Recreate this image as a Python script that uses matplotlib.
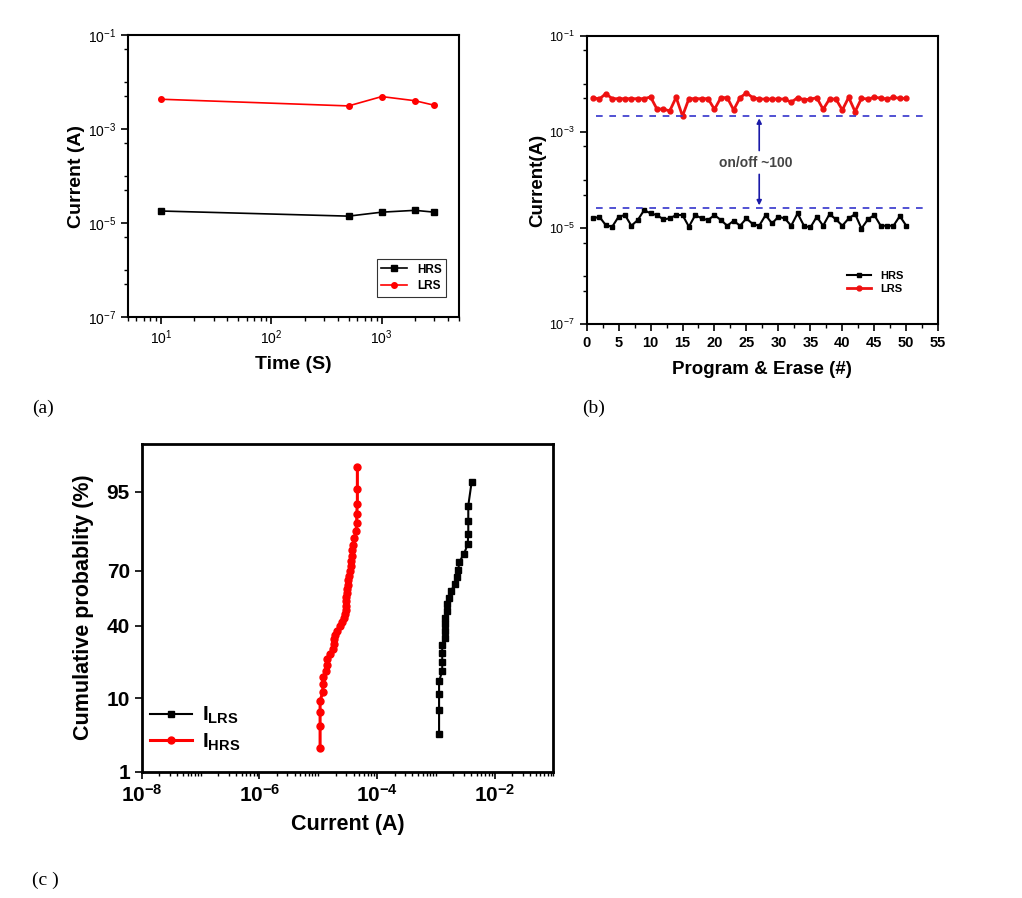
import numpy as np
import matplotlib
matplotlib.use('Agg')
import matplotlib.pyplot as plt
from matplotlib.ticker import LogLocator, FixedLocator, MultipleLocator, NullFormatter, FuncFormatter
from statistics import NormalDist

plt.rcParams['font.family'] = ['Liberation Sans', 'DejaVu Sans']
plt.rcParams['mathtext.fontset'] = 'custom'
plt.rcParams['mathtext.rm'] = 'Liberation Sans'
plt.rcParams['mathtext.it'] = 'Liberation Sans:italic'
plt.rcParams['mathtext.bf'] = 'Liberation Sans:bold'
plt.rcParams['mathtext.default'] = 'regular'

# (a) retencion
tiempo = [10, 500, 1000, 2000, 3000]
hrs_ret = [1.8e-5, 1.4e-5, 1.7e-5, 1.86e-5, 1.7e-5]
lrs_ret = [4.3e-3, 3.1e-3, 4.9e-3, 4.0e-3, 3.2e-3]

# (b) ciclos
ciclos = np.arange(1, 51)
lrs_cic = np.array([5.19, 4.86, 6.3, 4.94, 4.94, 4.94, 4.94, 4.94, 4.94, 5.36,
                    3.01, 3.01, 2.74, 5.27, 2.15, 4.94, 4.94, 4.94, 4.94, 2.96,
                    5.19, 5.19, 2.87, 5.19, 6.5, 5.19, 4.86, 4.86, 4.86, 4.86,
                    4.86, 4.15, 5.19, 4.72, 4.8, 5.19, 2.96, 4.86, 4.86, 2.87,
                    5.27, 2.65, 5.02, 4.86, 5.27, 5.1, 4.86, 5.27, 5.02, 5.02]) * 1e-3
hrs_cic = np.array([1.59, 1.72, 1.15, 1.07, 1.72, 1.87, 1.12, 1.47, 2.37, 2.02,
                    1.87, 1.52, 1.59, 1.87, 1.87, 1.07, 1.87, 1.59, 1.47, 1.87,
                    1.47, 1.12, 1.42, 1.12, 1.59, 1.21, 1.12, 1.87, 1.25, 1.72,
                    1.59, 1.12, 2.02, 1.12, 1.03, 1.72, 1.12, 1.96, 1.52, 1.12,
                    1.59, 1.96, 0.98, 1.52, 1.87, 1.12, 1.12, 1.12, 1.78, 1.12]) * 1e-5
nivel_on = 2.2e-3
nivel_off = 2.6e-5

# (c) distribucion acumulada
i_lrs = np.array([1.14, 1.14, 1.14, 1.14, 1.29, 1.29, 1.29, 1.29, 1.44, 1.44,
                  1.44, 1.44, 1.57, 1.57, 1.70, 1.80, 2.13, 2.27, 2.42, 2.52,
                  3.03, 3.50, 3.58, 3.58, 3.58, 4.09]) * 1e-3
p_lrs = [3.7, 7.4, 11.1, 14.8, 18.5, 22.2, 25.9, 29.6, 33.3, 37.0, 40.7, 44.4, 48.1,
         51.9, 55.6, 59.3, 63.0, 66.7, 70.4, 74.1, 77.8, 81.5, 85.2, 88.9, 92.6, 96.3]
i_hrs = np.array([1.08, 1.08, 1.08, 1.08, 1.20, 1.20, 1.23, 1.35, 1.40, 1.44,
                  1.59, 1.77, 1.89, 1.89, 1.94, 2.07, 2.36, 2.52, 2.76, 2.87,
                  2.94, 2.94, 2.98, 2.98, 3.06, 3.14, 3.22, 3.27, 3.36, 3.49,
                  3.58, 3.67, 3.72, 3.82, 3.97, 4.13, 4.41, 4.53, 4.53, 4.65,
                  4.65, 4.65]) * 1e-5
p_hrs = [2.3, 4.7, 7.0, 9.3, 11.6, 14.0, 16.3, 18.6, 20.9, 23.3, 25.6, 27.9, 30.2, 32.6,
         34.9, 37.2, 39.5, 41.9, 44.2, 46.5, 48.8, 51.2, 53.5, 55.8, 58.1, 60.5, 62.8,
         65.1, 67.4, 69.8, 72.1, 74.4, 76.7, 79.1, 81.4, 83.7, 86.0, 88.4, 90.7, 93.0,
         95.3, 97.7]

_nd = NormalDist()
_ppf = np.vectorize(lambda v: _nd.inv_cdf(v / 100.0), otypes=[float])
_cdf = np.vectorize(lambda v: _nd.cdf(v) * 100.0, otypes=[float])


def prob_fwd(p):
    return _ppf(np.clip(np.asarray(p, float), 1e-6, 100 - 1e-6))


def prob_inv(z):
    return _cdf(np.asarray(z, float))


def exp_label(v, pos):
    return r'$10^{%d}$' % round(np.log10(v))


def estilo(ax, lw=1.5):
    for s in ax.spines.values():
        s.set_linewidth(lw)
    ax.tick_params(which='both', direction='out', top=False, right=False)
    ax.tick_params(which='major', length=5, width=1.2)
    ax.tick_params(which='minor', length=3, width=1.0)


fig = plt.figure(figsize=(10.22, 8.98), dpi=100)

# ---- (a)
ax1 = fig.add_axes([0.125, 0.647, 0.324, 0.314])
ax1.plot(tiempo, hrs_ret, color='black', marker='s', ms=4, lw=1.2, label='HRS')
ax1.plot(tiempo, lrs_ret, color='#ff0000', marker='o', ms=4, lw=1.2, label='LRS')
ax1.set_xscale('log')
ax1.set_yscale('log')
ax1.set_xlim(5, 5000)
ax1.set_ylim(1e-7, 1e-1)
ax1.yaxis.set_major_locator(FixedLocator([1e-7, 1e-5, 1e-3, 1e-1]))
ax1.yaxis.set_major_formatter(FuncFormatter(exp_label))
ax1.yaxis.set_minor_locator(LogLocator(base=10, subs=(1.0, 5.0)))
ax1.yaxis.set_minor_formatter(NullFormatter())
ax1.xaxis.set_major_formatter(FuncFormatter(exp_label))
ax1.xaxis.set_minor_locator(LogLocator(base=10, subs=np.arange(2, 10)))
ax1.xaxis.set_minor_formatter(NullFormatter())
estilo(ax1)
ax1.tick_params(labelsize=10)
ax1.set_xlabel('Time (S)', fontsize=14, fontweight='bold', labelpad=6)
ax1.set_ylabel('Current (A)', fontsize=14, fontweight='bold', labelpad=2)
leg1 = ax1.legend(loc='lower right', prop={'size': 8.5, 'weight': 'bold'}, fancybox=False,
                  edgecolor='black', handlelength=2.2, borderpad=0.4, labelspacing=0.4,
                  bbox_to_anchor=(0.98, 0.05))
leg1.get_frame().set_linewidth(0.8)

# ---- (b)
ax2 = fig.add_axes([0.574, 0.639, 0.344, 0.321])
ax2.plot(ciclos, hrs_cic, color='black', marker='s', ms=3.5, lw=1.5, label='HRS')
ax2.plot(ciclos, lrs_cic, color='#ee1111', marker='o', ms=3.5, lw=2.0, label='LRS')
ax2.hlines([nivel_on, nivel_off], 1.5, 53, colors='#3333cc', linestyles=(0, (4, 4)), lw=1.2)
ax2.annotate('', xy=(27, nivel_on), xytext=(27, 3.6e-4),
             arrowprops=dict(arrowstyle='-|>', color='#1a1aa8', lw=1.2, mutation_scale=7))
ax2.annotate('', xy=(27, nivel_off), xytext=(27, 1.5e-4),
             arrowprops=dict(arrowstyle='-|>', color='#1a1aa8', lw=1.2, mutation_scale=7))
ax2.text(26.5, 2.3e-4, 'on/off ~100', ha='center', va='center', fontsize=10,
         fontweight='bold', color='#444444')
ax2.set_yscale('log')
ax2.set_xlim(0, 55)
ax2.set_ylim(1e-7, 1e-1)
ax2.xaxis.set_major_locator(MultipleLocator(5))
ax2.xaxis.set_minor_locator(MultipleLocator(2.5))
ax2.yaxis.set_major_locator(FixedLocator([1e-7, 1e-5, 1e-3, 1e-1]))
ax2.yaxis.set_major_formatter(FuncFormatter(exp_label))
ax2.yaxis.set_minor_locator(LogLocator(base=10, subs=(1.0, 5.0)))
ax2.yaxis.set_minor_formatter(NullFormatter())
estilo(ax2)
ax2.tick_params(axis='x', labelsize=10.5)
ax2.tick_params(axis='y', labelsize=9)
for t in ax2.get_xticklabels():
    t.set_fontweight('bold')
ax2.set_xlabel('Program & Erase (#)', fontsize=13.5, fontweight='bold', labelpad=8)
ax2.set_ylabel('Current(A)', fontsize=13.5, fontweight='bold', labelpad=2)
ax2.legend(loc='lower right', prop={'size': 8, 'weight': 'bold'}, frameon=False,
           handlelength=2.2, labelspacing=0.3, bbox_to_anchor=(0.93, 0.07))

# ---- (c)
ax3 = fig.add_axes([0.1387, 0.1406, 0.4027, 0.3655])
ax3.plot(i_lrs, p_lrs, color='black', marker='s', ms=5, lw=1.5, label=r'$\mathbf{I_{LRS}}$')
ax3.plot(i_hrs, p_hrs, color='#ff0000', marker='o', ms=5, lw=2.2, label=r'$\mathbf{I_{HRS}}$')
ax3.set_xscale('log')
ax3.set_yscale('function', functions=(prob_fwd, prob_inv))
ax3.set_xlim(1e-8, 1e-1)
ax3.set_ylim(1, 99)
ax3.yaxis.set_major_locator(FixedLocator([1, 10, 40, 70, 95]))
ax3.yaxis.set_minor_locator(FixedLocator([]))
ax3.yaxis.set_major_formatter(FuncFormatter(lambda v, pos: '%d' % round(v)))
ax3.xaxis.set_major_locator(FixedLocator([1e-8, 1e-6, 1e-4, 1e-2]))
ax3.xaxis.set_minor_locator(LogLocator(base=10, subs=np.arange(1, 10), numticks=30))
ax3.xaxis.set_minor_formatter(NullFormatter())
ax3.xaxis.set_major_formatter(FuncFormatter(lambda v, pos: r'$\mathbf{10^{%d}}$' % round(np.log10(v))))
estilo(ax3, lw=2.0)
ax3.tick_params(labelsize=15)
for t in ax3.get_yticklabels():
    t.set_fontweight('bold')
ax3.set_xlabel('Current (A)', fontsize=15.5, fontweight='bold', labelpad=6)
ax3.set_ylabel('Cumulative probablity (%)', fontsize=15.5, fontweight='bold', labelpad=9)
ax3.legend(loc='lower left', prop={'size': 15, 'weight': 'bold'}, frameon=False,
           handlelength=2.0, labelspacing=0.25, handletextpad=0.5,
           bbox_to_anchor=(-0.025, 0.0))

# etiquetas de panel
fig.text(0.031, 1 - 408 / 898, '(a)', fontsize=14, family='Liberation Serif', va='center')
fig.text(0.570, 1 - 408 / 898, '(b)', fontsize=14, family='Liberation Serif', va='center')
fig.text(0.031, 1 - 880 / 898, '(c )', fontsize=14, family='Liberation Serif', va='center')

fig.savefig('out.png', dpi=100)
